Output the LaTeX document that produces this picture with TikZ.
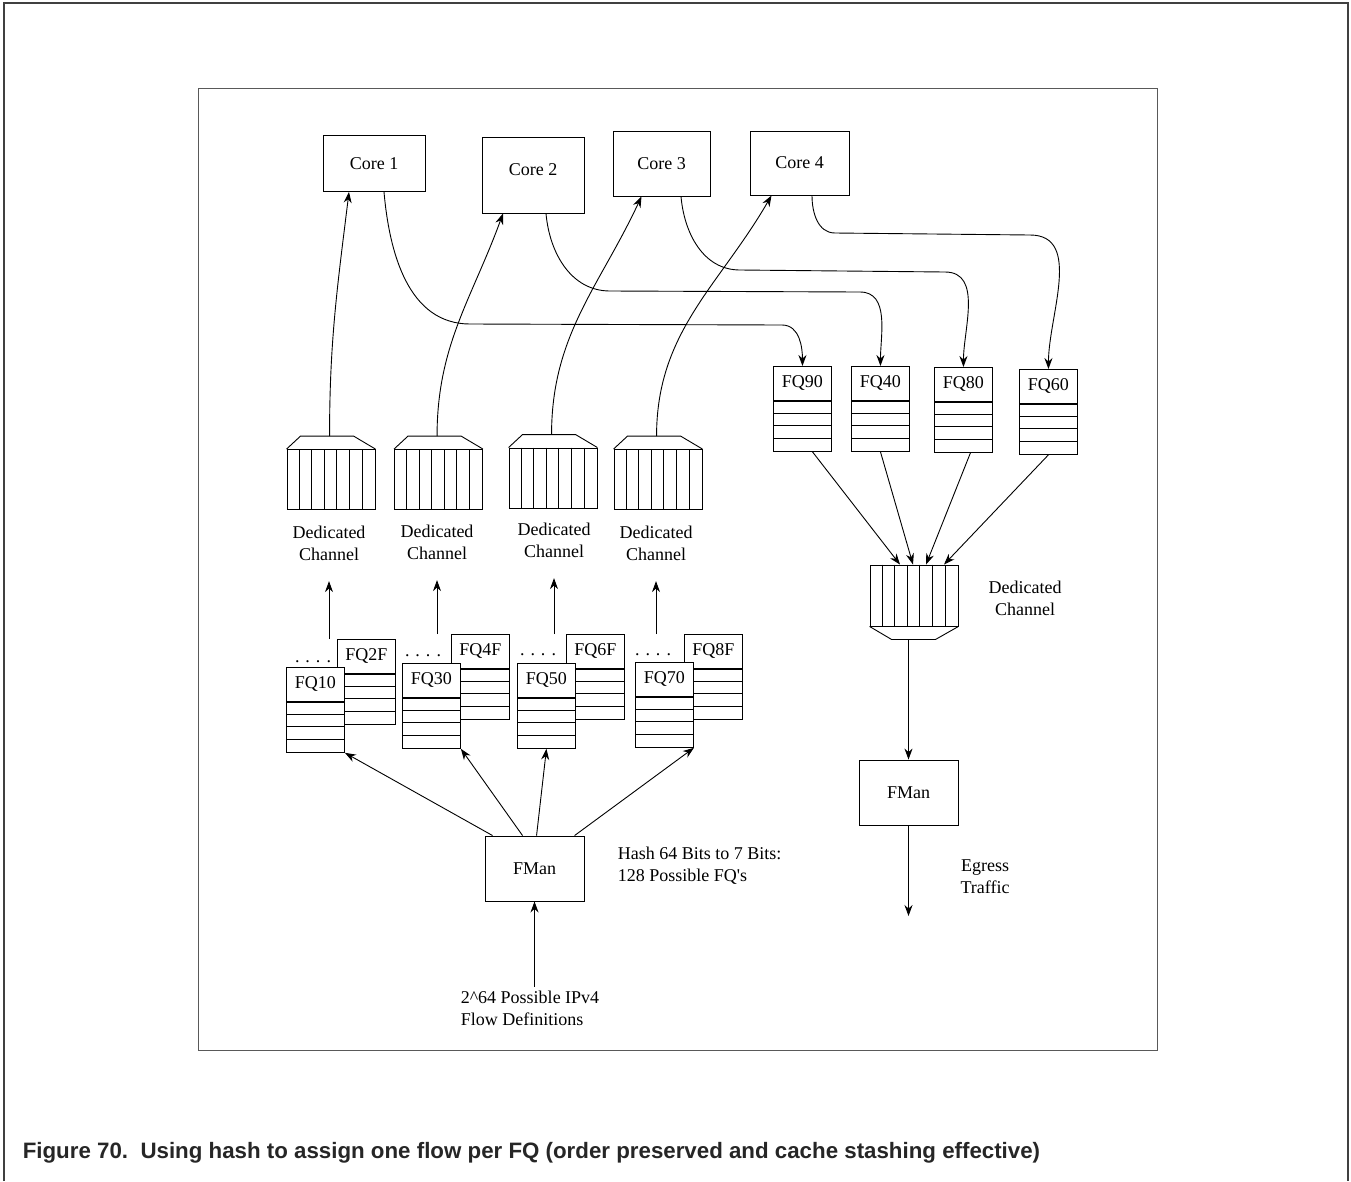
\documentclass[tikz,border=0pt]{standalone}
\usepackage{fontspec}
\setmainfont{Liberation Serif}
\newfontfamily\capfont{Liberation Sans}
\usepackage{tikz}
\usetikzlibrary{arrows.meta,positioning,calc}

% one frame queue: header with name, four empty rows below
\newcommand{\fqbox}[3]{%
  \node[fqhead, anchor=north west] (#1) at (#2) {#3};
  \node[fqrows, anchor=north] (#1r) at (#1.south) {};
  \foreach \k in {1,2,3}
    \draw ($(#1r.north west)+(0,-12.5*\k)$) -- ++(58,0);
}
% vertical slots of a dedicated channel
\newcommand{\chancols}[1]{%
  \foreach \k in {1,...,6}
    \draw ($(#1.north west)+(\k*88/7,0)$) -- ($(#1.south west)+(\k*88/7,0)$);
}
% dedicated channel with its hood on top
\newcommand{\chanup}[2]{%
  \node[chanbox] (#1) at (#2) {};
  \chancols{#1}
  \draw (#1.north west) -- ++(14,13) -- ++(53,0) -- (#1.north east);
  \coordinate (#1top) at ($(#1.north west)+(43,13)$);
}

\begin{document}
\begin{tikzpicture}[x=1pt, y=1pt,
    font=\fontsize{18}{22}\selectfont,
    line width=0.9pt,
    core/.style={rectangle, draw, minimum width=100pt, minimum height=62pt, inner sep=0pt},
    fman/.style={rectangle, draw, minimum width=99pt, minimum height=65pt, inner sep=0pt},
    fqhead/.style={rectangle, draw, fill=white, minimum width=58pt, minimum height=34pt, inner sep=0pt},
    fqrows/.style={rectangle, draw, fill=white, minimum width=58pt, minimum height=50pt, inner sep=0pt},
    chanbox/.style={rectangle, draw, minimum width=88pt, minimum height=60pt, inner sep=0pt},
    lbl/.style={align=center},
    note/.style={align=left, anchor=west},
    arrow/.style={-{Stealth[length=11pt,width=8pt]}}
]
\useasboundingbox (0,0) rectangle (1351,-1181);

% frames
\draw[line width=2.5pt, black!75] (4,-1181) -- (4,-3) -- (1348,-3) -- (1348,-1181);
\draw[black!65] (198,-88) rectangle (1157,-1050);

% cores
\node[core, minimum width=102pt, minimum height=56pt] (core1) at (374,-163.5) {Core 1};
\node[core, minimum width=102pt, minimum height=76pt] (core2) at (533,-175) {\raisebox{0pt}[0pt][0pt]{Core 2}};
\node[core, minimum width=97pt, minimum height=65pt] (core3) at (661.5,-163.5) {Core 3};
\node[core, minimum width=99pt, minimum height=64pt] (core4) at (799.5,-163) {Core 4};

% egress frame queues
\fqbox{fq90}{773,-366}{FQ90}
\fqbox{fq40}{851,-366}{FQ40}
\fqbox{fq80}{934,-367}{FQ80}
\fqbox{fq60}{1019,-369}{FQ60}

% ingress channels
\chanup{ch1}{331,-479.5}
\chanup{ch2}{438.5,-479.5}
\chanup{ch3}{553,-478}
\chanup{ch4}{658,-479.5}
\node[lbl] (lbl1) at (329,-543) {Dedicated\\Channel};
\node[lbl] (lbl2) at (437,-542) {Dedicated\\Channel};
\node[lbl] (lbl3) at (554,-540) {Dedicated\\Channel};
\node[lbl] (lbl4) at (656,-543) {Dedicated\\Channel};

% egress channel, hood below
\node[chanbox, minimum height=61pt] (chR) at (914,-595.5) {};
\chancols{chR}
\draw (chR.south west) -- ++(22,-13) -- ++(44,0) -- (chR.south east);
\coordinate (chRbot) at ($(chR.south)+(0,-13)$);
\node[lbl] (lblR) at (1025,-598) {Dedicated\\Channel};

% ingress frame queues (back ones first)
\fqbox{fq2f}{337,-639}{FQ2F}
\fqbox{fq4f}{451,-634}{FQ4F}
\fqbox{fq6f}{566,-634}{FQ6F}
\fqbox{fq8f}{684,-634}{FQ8F}
\fqbox{fq10}{286,-667}{FQ10}
\fqbox{fq30}{402,-663}{FQ30}
\fqbox{fq50}{517,-663}{FQ50}
\fqbox{fq70}{635,-662}{FQ70}
\node[anchor=base] (dots1) at (313,-662) {. . . .};
\node[anchor=base] (dots2) at (423,-656) {. . . .};
\node[anchor=base] (dots3) at (538,-655) {. . . .};
\node[anchor=base] (dots4) at (653,-655) {. . . .};

% FMan and texts
\node[fman] (fman1) at (534.5,-868.5) {FMan};
\node[note] (hash) at (614,-866) {Hash 64 Bits to 7 Bits:\\128 Possible FQ\textquotesingle s};
\node[note] (flows) at (457,-1008) {2\textasciicircum 64 Possible IPv4\\Flow Definitions};
\node[fman] (fman2) at (908.5,-792.5) {FMan};
\coordinate (egress) at (908.5,-916);
\node[lbl] (egresslbl) at (985,-877) {Egress\\Traffic};

% caption
\node[anchor=west, font=\capfont\bfseries\fontsize{22.3}{26}\selectfont, text=black!85] (caption) at (19,-1153)
  {Figure 70.\ \ Using hash to assign one flow per FQ (order preserved and cache stashing effective)};

% ingress path
\draw[arrow] (flows.north -| fman1.south) -- (fman1.south);
\draw[arrow] ($(fman1.north west)+(8,0)$) -- (fq10r.south east);
\draw[arrow] ($(fman1.north west)+(38,0)$) -- (fq30r.south east);
\draw[arrow] ($(fman1.north west)+(52,0)$) -- (fq50r.south);
\draw[arrow] ($(fman1.north west)+(90,0)$) -- (fq70r.south east);
\draw[arrow, shorten >=17pt] (lbl1.south |- fq2f.north) -- (lbl1.south);
\draw[arrow, shorten >=17pt] (lbl2.south |- fq4f.north) -- (lbl2.south);
\draw[arrow, shorten >=17pt] (lbl3.south |- fq6f.north) -- (lbl3.south);
\draw[arrow, shorten >=17pt] (lbl4.south |- fq8f.north) -- (lbl4.south);
\draw[arrow] (ch1top) to[out=90, in=-97] ($(core1.south)+(-25,0)$);
\draw[arrow] (ch2top) to[out=90, in=-110] ($(core2.south)+(-30,0)$);
\draw[arrow] (ch3top) to[out=90, in=-115] ($(core3.south)+(-20,0)$);
\draw[arrow] (ch4top) to[out=90, in=-120] ($(core4.south)+(-28,0)$);

% egress path
\draw[arrow] ($(core1.south)+(10,0)$) to[out=-85, in=180] (470,-324) -- (782,-325) to[out=0, in=90] (fq90.north);
\draw[arrow] ($(core2.south)+(13,0)$) to[out=-85, in=180] (610,-291) -- (860,-292) to[out=0, in=90] (fq40.north);
\draw[arrow] ($(core3.south)+(19.5,0)$) to[out=-85, in=180] (740,-270) -- (945,-272) to[out=0, in=90] (fq80.north);
\draw[arrow] ($(core4.south)+(12.5,0)$) to[out=-90, in=180] (835,-233) -- (1030,-235) to[out=0, in=90] (fq60.north);
\draw[arrow] ($(fq90r.south)+(10,0)$) -- ($(chR.north)+(-14,0)$);
\draw[arrow] (fq40r.south) -- ($(chR.north)+(-1,0)$);
\draw[arrow] ($(fq80r.south)+(7,0)$) -- ($(chR.north)+(12,0)$);
\draw[arrow] (fq60r.south) -- ($(chR.north)+(30,0)$);
\draw[arrow] (chRbot -| fman2.north) -- (fman2.north);
\draw[arrow] (fman2.south) -- (egress);
\end{tikzpicture}
\end{document}
